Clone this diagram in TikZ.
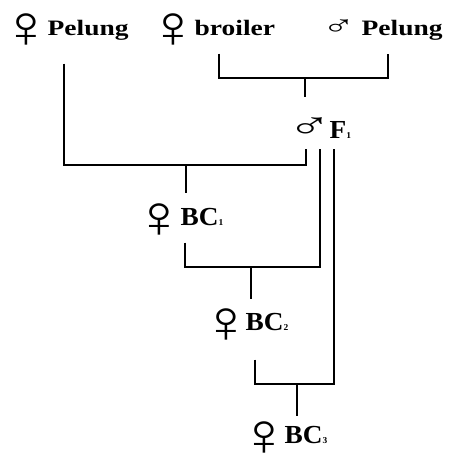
\documentclass[tikz,border=0pt]{standalone}
\usepackage{fontspec}
\setmainfont{Liberation Serif}
\newfontfamily\toplbl[FakeStretch=1.25,UprightFont={* Bold}]{Liberation Serif}
\newfontfamily\lowlbl[FakeStretch=1.05,UprightFont={* Bold}]{Liberation Serif}
\newfontfamily\fsymf[FakeStretch=1.15]{Liberation Serif}
\newfontfamily\msymf[FakeStretch=1.6]{Liberation Serif}
\usepackage{tikz}
% #1 gap to the text
\newcommand\fsym[1]{\makebox[22pt]{\raisebox{-12pt}{\fsymf\fontsize{60}{60}\selectfont ♀}}\hspace{#1}}
% #1 size, #2 box width, #3 gap
\newcommand\msym[3]{\makebox[#2]{\msymf\fontsize{#1}{#1}\selectfont ♂}\hspace{#3}}
\newcommand\sub[1]{{\fontsize{9}{9}\selectfont #1}}

\begin{document}
\begin{tikzpicture}[x=1pt, y=-1pt, line width=1.2pt,
  top/.style={anchor=base west, inner sep=0pt, text height=18pt, text depth=10pt,
              font=\toplbl\fontsize{22}{22}\selectfont},
  low/.style={anchor=base west, inner sep=0pt, text height=18pt, text depth=10pt,
              font=\lowlbl\fontsize{26}{26}\selectfont}]
\useasboundingbox (0,0) rectangle (449,456);

\node[top] (pf) at (15,35) {\fsym{10pt}Pelung};
\node[top] (bf) at (162,35) {\fsym{10pt}broiler};
\node[top] (pm) at (328,35) {\msym{28}{20pt}{13pt}Pelung};

\node[low] (f1) at (296,138) {\msym{37}{26pt}{7pt}F\sub{1}};
\node[low] (bc1) at (148,225) {\fsym{10pt}BC\sub{1}};
\node[low] (bc2) at (215,330) {\fsym{8pt}BC\sub{2}};
\node[low] (bc3) at (253,443) {\fsym{9pt}BC\sub{3}};

\coordinate (jA) at (305,78);
\coordinate (jB) at (186,165);
\coordinate (jC) at (251,267);
\coordinate (jD) at (297,384);

% crosses
\draw[shorten <=8pt, shorten >=8pt] ([xshift=57pt]bf.south west) |- (jA) -| ([xshift=60pt]pm.south west);
\draw[shorten >=22pt] (jA) -- (jA |- f1.north);
\draw[shorten <=18pt] ([xshift=49pt]pf.south west) |- (jB) -| ([xshift=10pt]f1.south west);
\draw[shorten >=13pt] (jB) -- (jB |- bc1.north);
\draw[shorten <=7pt] ([xshift=37pt]bc1.south west) |- (jC) -| ([xshift=24pt]f1.south west);
\draw[shorten >=12pt] (jC) -- (jC |- bc2.north);
\draw[shorten <=19pt] ([xshift=40pt]bc2.south west) |- (jD) -| ([xshift=38pt]f1.south west);
\draw[shorten >=8pt] (jD) -- (jD |- bc3.north);
\end{tikzpicture}
\end{document}
